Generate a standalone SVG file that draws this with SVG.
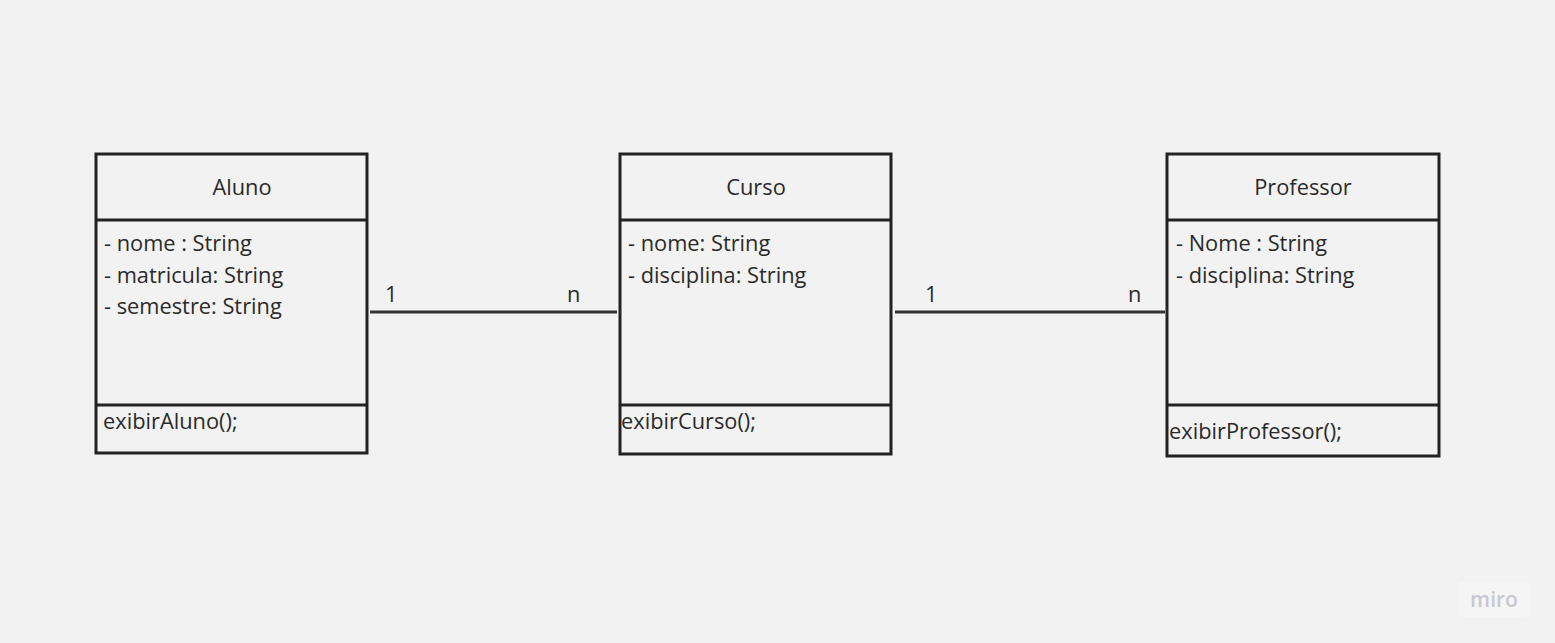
<svg xmlns="http://www.w3.org/2000/svg" width="1555" height="643" viewBox="0 0 1555 643">
<style>
.box{fill:none;stroke:#222;stroke-width:3}
.div{stroke:#222;stroke-width:3}
.t{font-family:"Open Sans","Liberation Sans",sans-serif;font-size:21.8px;fill:#2a2a2a}
.c{text-anchor:middle}
.conn{stroke:#333;stroke-width:3}
</style>
<rect width="1555" height="643" fill="#f2f2f2"/>
<g id="aluno">
<rect class="box" x="96" y="154" width="271" height="299"/>
<line class="div" x1="96" y1="220" x2="367" y2="220"/>
<line class="div" x1="96" y1="405" x2="367" y2="405"/>
<text class="t c" x="242" y="195">Aluno</text>
<text class="t" x="104" y="251">- nome : String</text>
<text class="t" x="104" y="283">- matricula: String</text>
<text class="t" x="104" y="314">- semestre: String</text>
<text class="t" x="103" y="429">exibirAluno();</text>
</g>
<g id="curso">
<rect class="box" x="620" y="154" width="271" height="300"/>
<line class="div" x1="620" y1="220" x2="891" y2="220"/>
<line class="div" x1="620" y1="405" x2="891" y2="405"/>
<text class="t c" x="756" y="195">Curso</text>
<text class="t" x="628" y="251">- nome: String</text>
<text class="t" x="628" y="283">- disciplina: String</text>
<text class="t" x="621" y="429">exibirCurso();</text>
</g>
<g id="professor">
<rect class="box" x="1167" y="154" width="272" height="302"/>
<line class="div" x1="1167" y1="220" x2="1439" y2="220"/>
<line class="div" x1="1167" y1="405" x2="1439" y2="405"/>
<text class="t c" x="1303" y="195">Professor</text>
<text class="t" x="1176" y="251">- Nome : String</text>
<text class="t" x="1176" y="283">- disciplina: String</text>
<text class="t" x="1169" y="439">exibirProfessor();</text>
</g>
<g id="connectors">
<line class="conn" x1="370" y1="312" x2="617" y2="312"/>
<line class="conn" x1="895" y1="312" x2="1165" y2="312"/>
<text class="t" x="385" y="302">1</text>
<text class="t" x="567" y="302">n</text>
<text class="t" x="925" y="302">1</text>
<text class="t" x="1128" y="302">n</text>
</g>
<g id="watermark">
<rect x="1458" y="582" width="72" height="35" rx="3" fill="#f5f5f5"/>
<text x="1494" y="607" text-anchor="middle" font-family="'Open Sans','Liberation Sans',sans-serif" font-size="21" font-weight="600" fill="#c8c8d0">miro</text>
</g>
</svg>
